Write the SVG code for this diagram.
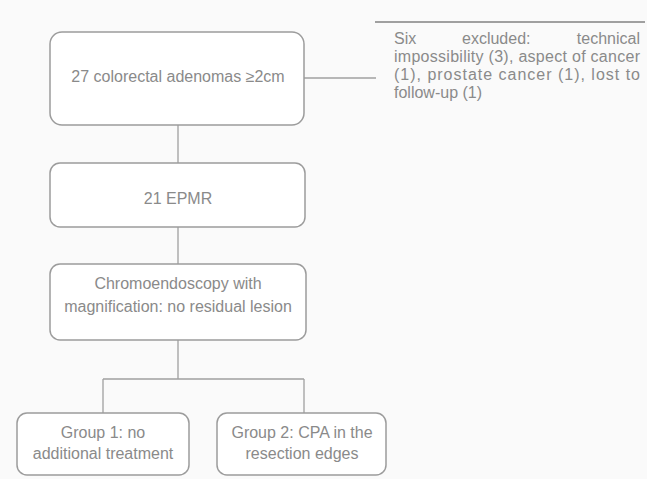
<svg xmlns="http://www.w3.org/2000/svg" width="647" height="479" viewBox="0 0 647 479">
<style>
.box{fill:#ffffff;stroke:#9c9c9c;stroke-width:1.5}
.ln{fill:none;stroke:#a0a0a0;stroke-width:1.3}
text{font-family:"Liberation Sans",Arial,sans-serif;font-size:16px;fill:#8a8a8a}
.c{text-anchor:middle}
</style>
<rect width="647" height="479" fill="#fafafa"/>
<g id="connectors">
<path class="ln" d="M304 78 H376"/>
<path class="ln" d="M375 22 H645" style="stroke-width:1.8"/>
<path class="ln" d="M178 125 V163"/>
<path class="ln" d="M178 227 V264"/>
<path class="ln" d="M178 340 V379 M103 379 H304 M103 379 V413 M304 379 V413"/>
</g>
<g id="n1">
<rect class="box" x="50" y="32" width="254" height="93" rx="12"/>
<text class="c" x="178" y="82">27 colorectal adenomas ≥2cm</text>
</g>
<g id="note">
<text x="394" y="44">Six</text>
<text x="462" y="44">excluded:</text>
<text x="640" y="44" text-anchor="end">technical</text>
<text x="394" y="62" textLength="246" lengthAdjust="spacing">impossibility (3), aspect of cancer</text>
<text x="394" y="80" textLength="246" lengthAdjust="spacing">(1), prostate cancer (1), lost to</text>
<text x="394" y="98">follow-up (1)</text>
</g>
<g id="n2">
<rect class="box" x="50" y="163" width="255" height="64" rx="10"/>
<text class="c" x="178" y="204">21 EPMR</text>
</g>
<g id="n3">
<rect class="box" x="50" y="264" width="256" height="76" rx="10"/>
<text class="c" x="178" y="289">Chromoendoscopy with</text>
<text class="c" x="178" y="312">magnification: no residual lesion</text>
</g>
<g id="g1">
<rect class="box" x="17" y="413" width="172" height="62" rx="10"/>
<text class="c" x="103" y="438">Group 1: no</text>
<text class="c" x="103" y="459">additional treatment</text>
</g>
<g id="g2">
<rect class="box" x="217" y="413" width="169" height="62" rx="10"/>
<text class="c" x="302" y="438">Group 2: CPA in the</text>
<text class="c" x="302" y="459">resection edges</text>
</g>
</svg>
